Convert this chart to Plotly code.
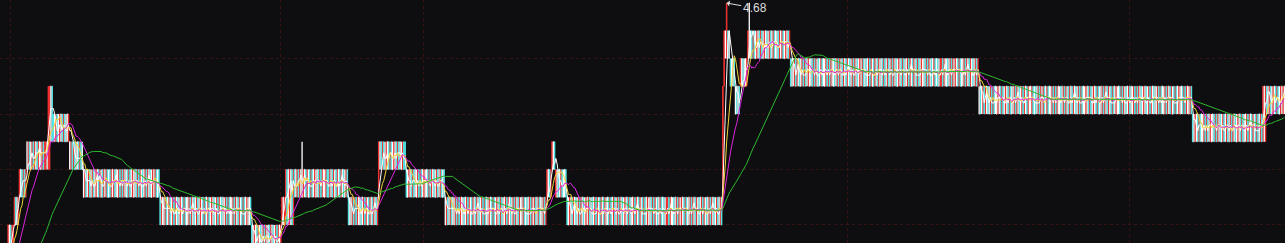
import plotly.graph_objects as go
import pandas as pd

# ---- data -------------------------------------------------------------
# Each segment: (band low, band high, bar pattern)
# u = up candle (low->high), d = down candle (high->low),
# h = doji closing at band high, l = doji closing at band low (wick spans band)
lead_segments = [
    (4.53, 4.54, "udhudlduhd"),
    (4.54, 4.55, "duhlududhu"),
    (4.55, 4.56, "hdulduudhlud"),
    (4.56, 4.57, "udduhludhdlhud"),
    (4.57, 4.58, "dulhuduhdlhudludhu"),
]
window_segments = [
    (4.58, 4.59, "udhudu"),
    (4.59, 4.60, "uhduu"),
    (4.60, 4.61, "udhu"),
    (4.61, 4.62, "uhdudu"),
    (4.62, 4.63, "hudlu" "duhdu" "hludu" "uh"),
    (4.62, 4.65, "uu"),
    (4.63, 4.65, "hd"),
    (4.63, 4.64, "dhudl" "uhdud" "lhu"),
    (4.62, 4.63, "hudud" "lhdud" "l"),
    (4.61, 4.62, "ludhu" "dludh" "uhdul" "duhud" "lduhu" "dhlud"
                 "uduhl" "dudhu" "lhdud" "uldhu" "duhdl" "uhudl" "d"),
    (4.60, 4.61, "duhlu" "dhudl" "uduhd" "luhdu" "dlhud" "uhdlu" "dhuld"
                 "udhud" "luhdl" "uduhd" "hludu" "dhlud" "uhdul" "dudhu" "lhd"),
    (4.59, 4.60, "dluhd" "uldhu" "dulhd" "uhdlu" "duhu"),
    (4.60, 4.61, "uhu"),
    (4.60, 4.62, "udhuhdu"),
    (4.61, 4.62, "dhuduh"),
    (4.61, 4.63, "l"),
    (4.61, 4.62, "uhdul" "dudhu" "lhdud" "uhlud" "duhdu" "lduhd" "uhdlu" "d"),
    (4.60, 4.61, "dlhud" "uduhl" "dhudu" "lduhd" "uhdu"),
    (4.61, 4.63, "u"),
    (4.62, 4.63, "hdudl" "uhdud" "luhdu" "dhlud" "d"),
    (4.61, 4.62, "dluhd" "udhlu" "dudhu" "lhdud" "uhdlu" "dhudl" "d"),
    (4.60, 4.61, "ludhu" "dhlud" "uduhl" "dhudu" "lduhd" "uhdlu" "dudhl"
                 "uhdud" "luhdu" "dlhud" "uhdlu" "duhdu" "lhudl" "dhudu"
                 "ludhu" "dhlud" "u"),
    (4.61, 4.62, "uhdu"),
    (4.62, 4.63, "uhd"),
    (4.61, 4.62, "uldhu" "dlhd"),
    (4.60, 4.61, "dluhd" "uhdlu" "duhdl" "uhudl" "dhudu" "lduhd" "ulhdu"
                 "dhudl" "uduhd" "luhdu" "dlhud" "uhdul" "dudhu" "lhdud"
                 "uldhu" "dhdlu" "uduhl" "dhudu" "luhdu" "dlhud" "uhdul"
                 "dhudu" "ldhud" "uhdlu" "dhud"),
    (4.61, 4.65, "u"),
    (4.65, 4.67, "u"),
    (4.66, 4.67, "h"),
    (4.66, 4.68, "u"),
    (4.66, 4.67, "dh"),
    (4.65, 4.66, "dlhd"),
    (4.64, 4.65, "ldhd"),
    (4.65, 4.66, "uhdlhu"),
    (4.66, 4.67, "u"),
    (4.66, 4.68, "h"),
    (4.66, 4.67, "hdudl" "uhdud" "luhdl" "udhud" "hlduh" "udluh" "du"),
    (4.65, 4.66, "dlhud" "uhdlu" "dudhu" "lhdud" "uldhu" "dhlud" "uduhl"
                 "dhudu" "lduhd" "uhdlu" "duhdl" "uhudl" "dhudu" "lduhd"
                 "ulhdu" "dhudl" "uduhd" "luhdu" "dlhud" "uhdul" "dudhu"
                 "lhdud" "uldhu" "dhdlu" "uduhl" "dhudu" "luhdu" "dlhud"
                 "uhdul" "dhudu"),
    (4.64, 4.65, "ldhud" "uhdlu" "dudhl" "uhdud" "luhdu" "dlhud" "uhdlu"
                 "duhdu" "lhudl" "dhudu" "ludhu" "dhlud" "uduhl" "dhudu"
                 "lduhd" "uhdlu" "dudhl" "uhdud" "luhdu" "dlhud" "uhdul"
                 "dudhu" "lhdud" "uldhu" "dhlud" "uduhd" "luhdl" "uduhd"
                 "hludu" "dhlud" "uhdul" "dudhu" "lhdud" "uhlud"),
    (4.63, 4.64, "dluhd" "udhlu" "dudhu" "lhdud" "uhdlu" "dhudl" "uduhd"
                 "luhdu" "dlhud" "uhdul" "dudhu" "d"),
    (4.63, 4.65, "uhu"),
    (4.64, 4.65, "dhudl" "uhdud" "luhuh"),
]

ma_periods = [5, 10, 20, 60]
ma_colors = ["#ffffff", "#f2d43c", "#d926d9", "#2db82d"]

grid_prices = [4.60, 4.62, 4.64, 4.66]
day_marks = [7.5, 222.5, 336.5, 674, 899]

# ---- build ------------------------------------------------------------
def expand(segments):
    rows = []
    for lo, hi, pat in segments:
        for ch in pat:
            o = {"u": lo, "d": hi, "h": hi, "l": lo}[ch]
            c = {"u": hi, "d": lo, "h": hi, "l": lo}[ch]
            rows.append((o, hi, lo, c))
    return rows

lead_rows = expand(lead_segments)
win_rows = expand(window_segments)
rows = lead_rows + win_rows
df = pd.DataFrame(rows, columns=["o", "h", "l", "c"])
df["x"] = range(-len(lead_rows), len(win_rows))
for p in ma_periods:
    df[f"ma{p}"] = df["c"].rolling(p, min_periods=1).mean()

up = df[df.c > df.o]
dn = df[df.c < df.o]
dj = df[df.c == df.o]

fig = go.Figure()
for sub, col, lw in [(up, "#ff3434", 0.8), (dn, "#58f4f4", 0.8), (dj, "#ffffff", 1.3)]:
    fig.add_trace(go.Candlestick(
        x=sub.x, open=sub.o, high=sub.h, low=sub.l, close=sub.c,
        increasing=dict(line=dict(color=col, width=lw), fillcolor=col),
        decreasing=dict(line=dict(color=col, width=lw), fillcolor=col),
        whiskerwidth=0, hoverinfo="skip", showlegend=False))

for p, col in zip(ma_periods, ma_colors):
    fig.add_trace(go.Scatter(x=df.x, y=df[f"ma{p}"], mode="lines",
                             line=dict(color=col, width=1),
                             hoverinfo="skip", showlegend=False))

vis = df[df.x >= 0]
imax = vis.h.idxmax()
fig.add_annotation(x=df.x[imax], y=df.h[imax], text=f"{df.h[imax]:.2f}",
                   showarrow=True, arrowhead=1, arrowsize=1, arrowwidth=1,
                   arrowcolor="#dcdcdc", ax=28, ay=5,
                   font=dict(family="Arial, Liberation Sans", size=12, color="#dcdcdc"))

n_vis = len(win_rows)
fig.update_layout(
    width=1285, height=243,
    margin=dict(l=0, r=0, t=0, b=0),
    paper_bgcolor="#0e0e11", plot_bgcolor="#0e0e11",
    showlegend=False,
    xaxis=dict(range=[-0.5, n_vis - 0.5], rangeslider=dict(visible=False),
               tickvals=day_marks, showticklabels=False, ticks="",
               showgrid=True, gridcolor="#361414", griddash="dot", gridwidth=1,
               zeroline=False, showline=False),
    yaxis=dict(range=[4.5935, 4.6811], tickvals=grid_prices,
               showticklabels=False, ticks="",
               showgrid=True, gridcolor="#361414", griddash="dot", gridwidth=1,
               zeroline=False, showline=False),
)
fig.write_html("out.html", config={"displayModeBar": False})
